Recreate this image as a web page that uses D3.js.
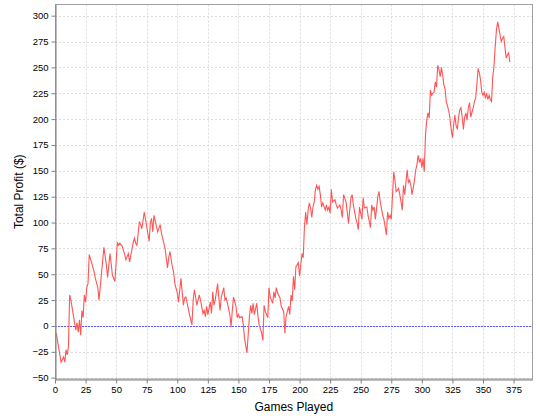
<!DOCTYPE html>
<html>
<head>
<meta charset="utf-8">
<script src="https://cdn.jsdelivr.net/npm/d3@7"></script>
<style>
  body { margin: 0; background: #fff; }
  svg { display: block; font-family: "Liberation Sans", Arial, sans-serif; }
  .grid line { stroke: #dcdcdc; stroke-dasharray: 2,2; }
  .axis path, .axis line { stroke: #808080; }
  .axis text { font-size: 9.5px; fill: #000; }
</style>
</head>
<body>
<svg width="540" height="420"></svg>
<script>
// games played (x) and running total profit (y)
var games = [1, 5, 7, 8, 9, 10, 11, 12, 13, 17, 18, 19, 20, 21, 22, 23, 24, 25, 26, 27, 28, 30, 32, 33, 35, 36,
  40, 42, 43, 45, 47, 49, 51, 52, 53, 55, 57, 58, 60, 61, 64, 65, 66, 67, 69, 70, 71, 73, 74, 77,
  78, 79, 80, 81, 83, 84, 86, 87, 88, 90, 92, 93, 94, 96, 97, 98, 100, 101, 103, 104, 105, 106, 107,
  109, 110, 112, 113, 114, 115, 116, 118, 119, 121, 122, 123, 124, 125, 127, 128, 129, 130, 131, 133,
  134, 135, 136, 138, 139, 140, 141, 143, 144, 145, 146, 148, 149, 150, 151, 153, 154, 155, 157, 159,
  160, 161, 162, 163, 165, 166, 167, 169, 170, 171, 172, 174, 175, 176, 178, 179, 180, 181, 182, 184,
  185, 187, 188, 189, 191, 192, 193, 194, 195, 196, 197, 199, 200, 202, 203, 204, 205, 206, 207, 208,
  209, 210, 211, 212, 213, 214, 215, 216, 217, 218, 219, 221, 222, 223, 224, 225, 226, 227, 229, 230,
  231, 233, 234, 235, 236, 238, 239, 240, 242, 243, 244, 246, 247, 248, 249, 251, 252, 253, 255, 256,
  258, 259, 260, 261, 262, 264, 265, 266, 268, 269, 271, 272, 273, 274, 275, 277, 278, 279, 281, 282,
  283, 284, 285, 286, 288, 289, 290, 291, 292, 294, 295, 296, 297, 298, 299, 300, 301, 302, 303, 304,
  305, 306, 307, 308, 309, 310, 311, 312, 313, 314, 315, 316, 317, 318, 319, 320, 322, 323, 324, 325,
  326, 327, 328, 329, 330, 331, 332, 333, 334, 335, 336, 337, 338, 339, 340, 342, 343, 344, 345, 346,
  347, 348, 349, 350, 351, 352, 353, 354, 355, 356, 357, 358, 359, 360, 361, 362, 363, 364, 365, 366,
  367, 368, 369, 370, 371, 372];

var profit = [-7, -35, -30, -35, -23, -28, -20, 30, 25, -4, 3, -6, 6, -9, 15, 8, 30, 23, 37, 41, 69, 61, 52, 46, 37, 25,
  76, 59, 47, 70, 49, 43, 81, 78, 80, 77, 69, 64, 70, 62, 81, 85, 80, 78, 101, 98, 94, 110, 103, 82,
  100, 104, 91, 107, 96, 91, 98, 90, 85, 75, 56, 66, 72, 57, 52, 41, 32, 23, 46, 33, 20, 27, 28,
  17, 11, 1, 25, 35, 28, 20, 30, 25, 12, 15, 9, 19, 11, 23, 12, 33, 20, 25, 41,
  27, 15, 28, 37, 25, 27, 22, 11, -1, 15, 28, 19, 8, 11, 8, 9, 1, -12, -26, 9,
  20, 12, 22, 11, 22, 9, 1, -7, -14, 20, 14, 8, 37, 28, 22, 33, 27, 37, 32, 27,
  19, 14, -7, 9, 19, 11, 30, 24, 48, 35, 57, 61, 48, 70, 66, 96, 110, 98, 112, 119,
  114, 105, 115, 120, 132, 136, 132, 135, 127, 115, 119, 112, 117, 112, 115, 109, 132, 120, 122, 117,
  114, 117, 112, 105, 127, 120, 110, 99, 124, 127, 117, 104, 100, 93, 115, 103, 124, 114, 115, 107,
  95, 117, 112, 115, 103, 125, 130, 120, 107, 103, 88, 110, 104, 107, 103, 149, 141, 130, 133, 127,
  120, 112, 136, 127, 151, 139, 141, 136, 127, 141, 151, 156, 165, 158, 162, 153, 162, 149, 185, 199,
  206, 201, 228, 223, 225, 226, 236, 231, 252, 248, 241, 250, 243, 233, 229, 217, 208, 201, 190, 182,
  194, 204, 194, 190, 201, 209, 211, 202, 190, 202, 206, 199, 211, 216, 202, 211, 217, 220, 233, 249,
  245, 238, 226, 223, 226, 220, 225, 219, 223, 219, 217, 241, 251, 270, 286, 294, 288, 281, 275, 278,
  280, 269, 259, 262, 264, 255];

var xTicks = d3.range(0, 376, 25);
var yTicks = d3.range(-50, 301, 25);

var svg = d3.select("svg"),
    plotLeft = 55, plotRight = 532.5, plotTop = 4.5, plotBottom = 379;

var x = d3.scaleLinear().domain([0, 390.5]).range([plotLeft, plotRight]);
var y = d3.scaleLinear().domain([-51.3, 310.8]).range([plotBottom, plotTop]);

// grid
var grid = svg.append("g").attr("class", "grid");
grid.selectAll(".gx").data(xTicks).enter().append("line")
    .attr("x1", function(d) { return Math.round(x(d)) + 0.5; })
    .attr("x2", function(d) { return Math.round(x(d)) + 0.5; })
    .attr("y1", plotTop).attr("y2", plotBottom);
grid.selectAll(".gy").data(yTicks).enter().append("line")
    .attr("y1", function(d) { return Math.round(y(d)) + 0.5; })
    .attr("y2", function(d) { return Math.round(y(d)) + 0.5; })
    .attr("x1", plotLeft).attr("x2", plotRight);

// zero marker
svg.append("line")
    .attr("x1", plotLeft).attr("x2", plotRight)
    .attr("y1", Math.round(y(0)) + 0.5).attr("y2", Math.round(y(0)) + 0.5)
    .attr("stroke", "#5a5aff")
    .attr("stroke-dasharray", "2,1");

// profit line
var line = d3.line()
    .x(function(d, i) { return x(games[i]); })
    .y(function(d) { return y(d); });

svg.append("path")
    .datum(profit)
    .attr("fill", "none")
    .attr("stroke", "#ff5555")
    .attr("stroke-width", 1.1)
    .attr("d", line);

// outline
svg.append("rect")
    .attr("x", plotLeft + 0.5).attr("y", plotTop)
    .attr("width", plotRight - plotLeft - 0.5).attr("height", plotBottom - plotTop)
    .attr("fill", "none").attr("stroke", "#a0a0a0");

// axes
svg.append("g")
    .attr("class", "axis")
    .attr("transform", "translate(0," + (plotBottom + 0.5) + ")")
    .call(d3.axisBottom(x).tickValues(xTicks).tickSize(4).tickPadding(3).tickSizeOuter(0));

svg.append("g")
    .attr("class", "axis")
    .attr("transform", "translate(" + (plotLeft + 0.5) + ",0)")
    .call(d3.axisLeft(y).tickValues(yTicks).tickSize(4).tickPadding(3).tickSizeOuter(0));

svg.append("text")
    .attr("x", (plotLeft + plotRight) / 2)
    .attr("y", 411)
    .attr("text-anchor", "middle")
    .style("font-size", "12px")
    .text("Games Played");

svg.append("text")
    .attr("transform", "translate(23," + ((plotTop + plotBottom) / 2) + ") rotate(-90)")
    .attr("text-anchor", "middle")
    .style("font-size", "12px")
    .text("Total Profit ($)");
</script>
</body>
</html>
